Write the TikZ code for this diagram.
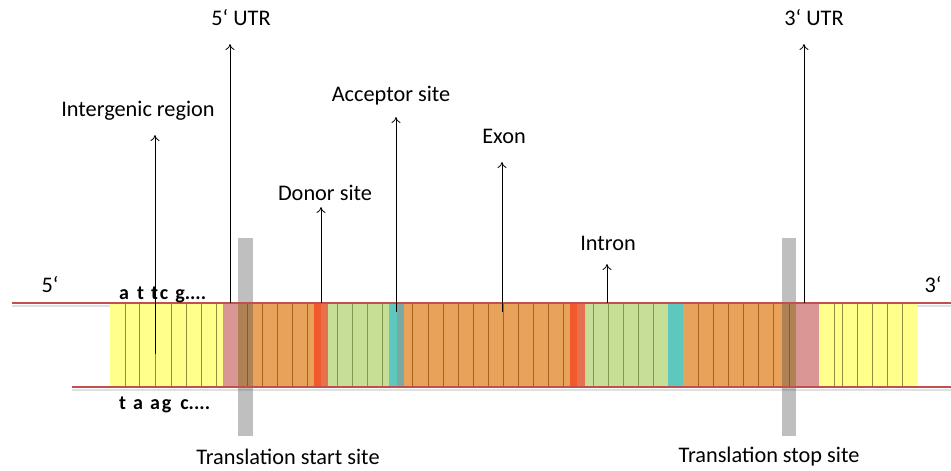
\documentclass[tikz,border=0pt]{standalone}
\usepackage{fontspec}
\setmainfont{Carlito}
\usetikzlibrary{arrows.meta}
\definecolor{yel}{HTML}{FFFF8C}
\definecolor{pnk}{HTML}{D99694}
\definecolor{org}{HTML}{E8A25A}
\definecolor{redc}{HTML}{F25A2C}
\definecolor{coral}{HTML}{E47250}
\definecolor{grn}{HTML}{C6DE95}
\definecolor{cyn}{HTML}{5EC8BE}
\definecolor{tealc}{HTML}{79A9A1}
\definecolor{strandc}{HTML}{C0504D}
\definecolor{yeldiv}{HTML}{8E8E3E}
\definecolor{orgdiv}{HTML}{A8621E}
\definecolor{grndiv}{HTML}{7E9A4A}
\begin{document}
\begin{tikzpicture}[x=1pt,y=-1pt,
  lbl/.style={font=\fontsize{22.3}{24}\selectfont, inner sep=0pt},
  seq/.style={font=\fontsize{20}{22}\selectfont\bfseries, inner sep=0pt},
  pointer/.style={-{To[length=6pt,width=9pt]}, line width=0.8pt, black},
  strand/.style={line width=2.2pt, strandc},
  shadowline/.style={line width=2pt, black!12},
  divider/.style={line width=0.8pt},
  bar/.style={fill=black!72, opacity=0.35}]
\useasboundingbox (0,0) rectangle (951,471);
% strand shadows
\draw[shadowline] (12,305.5) -- (951,305.5);
\draw[shadowline] (72,389.5) -- (951,389.5);
% segments
\fill[yel] (110,304) rectangle (223,386);
\fill[pnk] (223,304) rectangle (238,386);
\fill[org] (238,304) rectangle (314,386);
\fill[redc] (314,304) rectangle (321,386);
\fill[coral] (321,304) rectangle (328,386);
\fill[grn] (328,304) rectangle (389,386);
\fill[cyn] (389,304) rectangle (397,386);
\fill[tealc] (397,304) rectangle (404,386);
\fill[org] (404,304) rectangle (570,386);
\fill[redc] (570,304) rectangle (577,386);
\fill[coral] (577,304) rectangle (585,386);
\fill[grn] (585,304) rectangle (668,386);
\fill[cyn] (668,304) rectangle (683,386);
\fill[org] (683,304) rectangle (796,386);
\fill[pnk] (796,304) rectangle (819,386);
\fill[yel] (819,304) rectangle (917,386);
% dividers
\foreach \x in {125,139,155,171,186,201,216,834,842,857,872,887,902}
  \draw[divider, yeldiv] (\x,304) -- (\x,386);
\foreach \x in {247,262,277,292,307,412,428,443,458,473,488,503,518,533,548,563,698,713,728,743,758,773,789}
  \draw[divider, orgdiv] (\x,304) -- (\x,386);
\foreach \x in {337,352,367,382,593,608,623,638,653}
  \draw[divider, grndiv] (\x,304) -- (\x,386);
% translation bars
\fill[bar] (238,238) rectangle (253,436);
\fill[bar] (782,238) rectangle (796,436);
% strands
\coordinate (topL) at (12,303);
\coordinate (topR) at (951,303);
\coordinate (botL) at (72,387);
\coordinate (botR) at (951,387);
\draw[strand] (topL) -- (topR);
\draw[strand] (botL) -- (botR);
% strand end labels
\node[lbl] (p5) at (50,285) {5‘};
\node[lbl] (p3) at (933,285) {3‘};
\node[seq, anchor=base west] (seqtop) at (119,299) {a\hspace{8pt}t\hspace{7pt}t\hspace{2pt}c\hspace{7pt}g....};
\node[seq, anchor=base west] (seqbot) at (119,409) {t\hspace{7pt}a\hspace{7pt}a\hspace{2pt}g\hspace{9pt}c....};
% labels
\node[lbl] (lInter) at (138,111) {Intergenic region};
\node[lbl] (lUTR5) at (241,18) {5‘ UTR};
\node[lbl] (lDonor) at (325,193) {Donor site};
\node[lbl] (lAcc) at (391,96) {Acceptor site};
\node[lbl] (lExon) at (504,136) {Exon};
\node[lbl] (lIntron) at (608,243) {Intron};
\node[lbl] (lUTR3) at (814,18) {3‘ UTR};
\node[lbl] (lStart) at (288,457) {Translation start site};
\node[lbl] (lStop) at (769,457) {Translation stop site};
% pointer coordinates
\coordinate (fInter) at (155,354); \coordinate (tInter) at (155,135);
\coordinate (fUTR5) at (230,303); \coordinate (tUTR5) at (230,44);
\coordinate (fDonor) at (321,303); \coordinate (tDonor) at (321,207);
\coordinate (fAcc) at (396,312); \coordinate (tAcc) at (396,117);
\coordinate (fExon) at (502,312); \coordinate (tExon) at (502,162);
\coordinate (fIntron) at (607,303); \coordinate (tIntron) at (607,264);
\coordinate (fUTR3) at (804,303); \coordinate (tUTR3) at (804,44);
\draw[pointer] (fInter) -- (tInter);
\draw[pointer] (fUTR5) -- (tUTR5);
\draw[pointer] (fDonor) -- (tDonor);
\draw[pointer] (fAcc) -- (tAcc);
\draw[pointer] (fExon) -- (tExon);
\draw[pointer] (fIntron) -- (tIntron);
\draw[pointer] (fUTR3) -- (tUTR3);
\end{tikzpicture}
\end{document}
